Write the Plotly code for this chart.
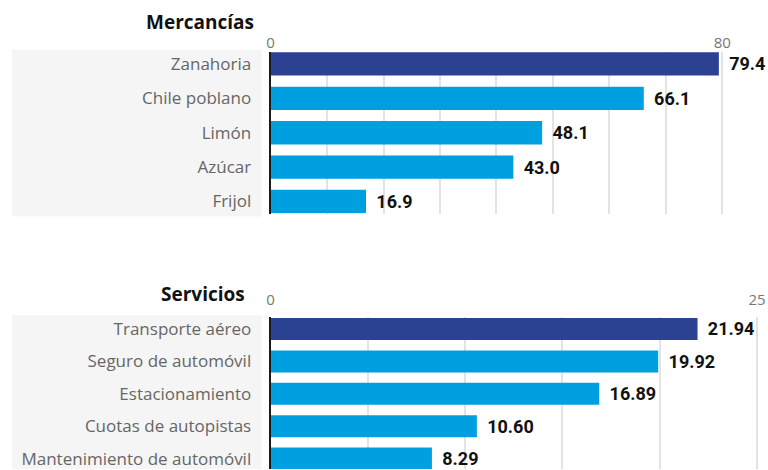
import plotly.graph_objects as go

W, H = 768, 470

merc_cats = ["Zanahoria", "Chile poblano", "Limón", "Azúcar", "Frijol"]
merc_vals = [79.4, 66.1, 48.1, 43.0, 16.9]
serv_cats = ["Transporte aéreo", "Seguro de automóvil", "Estacionamiento",
             "Cuotas de autopistas", "Mantenimiento de automóvil"]
serv_vals = [21.94, 19.92, 16.89, 10.60, 8.29]

merc_ticks = [0, 10, 20, 30, 40, 50, 60, 70, 80]
merc_ticktext = ["0", "", "", "", "", "", "", "", "80"]
serv_ticks = [0, 5, 10, 15, 20, 25]
serv_ticktext = ["0", "", "", "", "", "25"]

DARK = "#2b4192"
LIGHT = "#009fe0"

def px_x(p):
    return p / W

def px_y(p):
    return 1 - p / H

fig = go.Figure()

fig.add_trace(go.Bar(
    x=merc_vals, y=list(range(len(merc_cats))), orientation="h",
    marker=dict(color=[DARK] + [LIGHT] * (len(merc_vals) - 1), line=dict(width=0)),
    text=["\u2009\u2009" + f"{v:.1f}" for v in merc_vals], textposition="outside",
    textfont=dict(family="Roboto", size=18, color="#111111", weight="bold"),
    cliponaxis=False, xaxis="x", yaxis="y", showlegend=False, hoverinfo="skip",
))
fig.add_trace(go.Bar(
    x=serv_vals, y=list(range(len(serv_cats))), orientation="h",
    marker=dict(color=[DARK] + [LIGHT] * (len(serv_vals) - 1), line=dict(width=0)),
    text=["\u2009\u2009" + f"{v:.2f}" for v in serv_vals], textposition="outside",
    textfont=dict(family="Roboto", size=18, color="#111111", weight="bold"),
    cliponaxis=False, xaxis="x2", yaxis="y2", showlegend=False, hoverinfo="skip",
))

x0 = 268
merc_scale = (722 - 268) / 80.0
serv_scale = (757 - 268) / 25.0

common_x = dict(side="top", showline=False, zeroline=False, ticks="",
                showgrid=True, gridcolor="#e3e3e3", gridwidth=1.5,
                tickfont=dict(family="Open Sans", size=15, color="#777777"),
                tickmode="array", ticklabeloverflow="allow")
common_y = dict(showline=True, linecolor="#1a1a1a", linewidth=2, ticks="",
                showgrid=False, zeroline=False, tickmode="array",
                tickfont=dict(family="Open Sans", size=17, color="#666666"),
                ticklabelstandoff=14, ticklabeloverflow="allow")

fig.update_layout(
    width=W, height=H, margin=dict(l=0, r=0, t=0, b=0),
    paper_bgcolor="white", plot_bgcolor="rgba(0,0,0,0)",
    bargap=0.32,
    xaxis=dict(common_x, domain=[px_x(x0), 1], range=[0, (W - x0) / merc_scale],
               tickvals=merc_ticks, ticktext=merc_ticktext, anchor="y"),
    yaxis=dict(common_y, domain=[px_y(214), px_y(52)], range=[4.35, -0.35],
               tickvals=list(range(len(merc_cats))), ticktext=merc_cats, anchor="x"),
    xaxis2=dict(common_x, domain=[px_x(x0), 1], range=[0, (W - x0) / serv_scale],
                tickvals=serv_ticks, ticktext=serv_ticktext, anchor="y2",
                ticklabelstandoff=8),
    yaxis2=dict(common_y, domain=[0, px_y(318)], range=[4.32, -0.36],
                tickvals=list(range(len(serv_cats))), ticktext=serv_cats, anchor="x2"),
)

# dotted label backgrounds
fig.add_shape(type="rect", xref="paper", yref="paper", x0=px_x(8), x1=px_x(259),
              y0=px_y(217), y1=px_y(50), fillcolor="#f5f5f5", line=dict(width=0), layer="below")
fig.add_shape(type="rect", xref="paper", yref="paper", x0=px_x(8), x1=px_x(259),
              y0=0, y1=px_y(316), fillcolor="#f5f5f5", line=dict(width=0), layer="below")

fig.add_annotation(text="<b>Mercancías</b>", xref="paper", yref="paper",
                   x=px_x(253), y=px_y(22), xanchor="right", yanchor="middle",
                   showarrow=False, font=dict(family="Open Sans", size=19, color="#111111"))
fig.add_annotation(text="<b>Servicios</b>", xref="paper", yref="paper",
                   x=px_x(244), y=px_y(295), xanchor="right", yanchor="middle",
                   showarrow=False, font=dict(family="Open Sans", size=19, color="#111111"))

fig.write_html("out.html")
